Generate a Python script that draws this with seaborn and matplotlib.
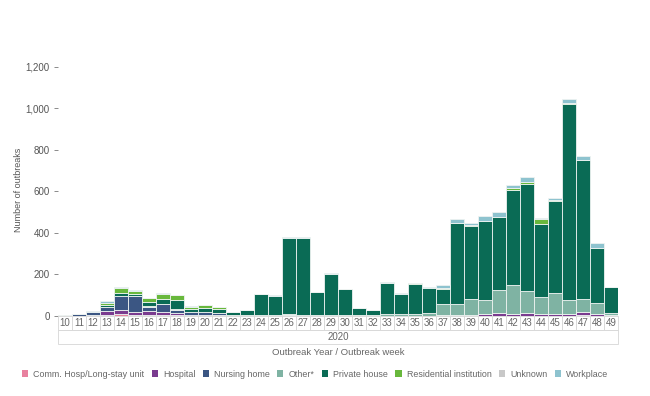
import pandas as pd
import matplotlib.pyplot as plt
import matplotlib.transforms as mtransforms
from matplotlib.patches import Rectangle, Patch
from matplotlib.ticker import FuncFormatter
import seaborn as sns

# ---------------------------
# Data
# ---------------------------

weeks = list(range(10, 50))

settings = [
    "Comm. Hosp/Long-stay unit", "Hospital", "Nursing home", "Other*",
    "Private house", "Residential institution", "Unknown", "Workplace",
]

comm_hosp = [0, 0, 0, 3, 10, 5, 3, 5, 3, 0, 0, 0, 0, 0, 0, 0, 0, 0, 0, 0,
             0, 0, 0, 0, 0, 0, 0, 0, 0, 0, 0, 0, 0, 0, 0, 0, 0, 5, 0, 0]
hospital = [0, 2, 3, 20, 20, 15, 20, 15, 10, 5, 5, 3, 2, 2, 2, 0, 3, 0, 0, 0,
            0, 0, 0, 0, 0, 0, 0, 5, 5, 5, 10, 15, 10, 15, 10, 10, 10, 15, 10, 3]
nursing_home = [2, 8, 15, 22, 65, 75, 20, 40, 15, 15, 12, 10, 3, 3, 0, 0, 0, 0, 0, 0,
                0, 0, 0, 0, 0, 0, 0, 0, 0, 0, 0, 0, 0, 0, 0, 0, 0, 0, 0, 0]
other = [1, 0, 3, 0, 0, 0, 3, 0, 5, 0, 3, 0, 0, 2, 3, 3, 5, 5, 5, 5,
         5, 5, 3, 10, 10, 10, 15, 55, 55, 75, 65, 110, 140, 105, 80, 100, 65, 60, 55, 10]
private_house = [0, 0, 0, 10, 15, 10, 22, 20, 45, 15, 20, 22, 12, 23, 100, 95, 370, 373, 110, 195,
                 125, 35, 27, 150, 95, 145, 120, 70, 390, 355, 385, 350, 455, 515, 355, 445, 945, 670, 265, 127]
residential = [0, 0, 0, 10, 25, 15, 17, 25, 22, 10, 15, 7, 3, 0, 0, 0, 0, 0, 0, 0,
               0, 0, 0, 0, 0, 2, 0, 5, 0, 5, 0, 0, 10, 10, 20, 5, 6, 0, 0, 0]
unknown = [0] * 40
workplace = [0, 2, 4, 5, 5, 5, 0, 5, 0, 5, 0, 3, 0, 0, 0, 2, 2, 2, 0, 5,
             0, 0, 0, 5, 5, 3, 5, 15, 15, 10, 20, 25, 15, 25, 5, 10, 20, 20, 20, 0]

series = [comm_hosp, hospital, nursing_home, other,
          private_house, residential, unknown, workplace]

colors = ["#e8819f", "#7a3b8f", "#3b5683", "#7fb3a3",
          "#0a6b55", "#68b83c", "#c8c8c8", "#8ec3cf"]

rows = []
for name, values in zip(settings, series):
    for w, v in zip(weeks, values):
        rows.append({"Week": w, "Setting": name, "Count": v})
df = pd.DataFrame(rows)

# ---------------------------
# Plot
# ---------------------------

sns.set_theme(style="white")
plt.rcParams["font.family"] = ["Liberation Sans", "DejaVu Sans"]

fig = plt.figure(figsize=(6.5, 3.96), dpi=100)
ax = fig.add_axes([0.089, 0.202, 0.862, 0.629])

sns.histplot(
    data=df,
    x="Week",
    weights="Count",
    hue="Setting",
    hue_order=settings[::-1],
    palette=dict(zip(settings, colors)),
    multiple="stack",
    discrete=True,
    shrink=1.0,
    alpha=1,
    edgecolor="#eef3f1",
    linewidth=0.6,
    legend=False,
    ax=ax,
)

ax.set_xlim(9.5, 49.5)
ax.set_ylim(0, 1200)
ax.set_yticks(range(0, 1201, 200))
ax.yaxis.set_major_formatter(FuncFormatter(lambda v, p: f"{int(v):,}"))
ax.tick_params(axis="y", labelsize=7, labelcolor="#555555", length=3,
               width=0.6, color="#777777", left=True, pad=3)
ax.set_xticks([])
ax.set_xlabel("")
ax.set_ylabel("")
for s in ax.spines.values():
    s.set_visible(False)

fig.text(0.028, 0.52, "Number of outbreaks", rotation=90, ha="center",
         va="center", fontsize=6.5, color="#555555")

# week cells and year row under the axis
trans = mtransforms.blended_transform_factory(ax.transData, ax.transAxes)
cell_h = 0.056
for w in weeks:
    ax.add_patch(Rectangle((w - 0.5, -cell_h), 1, cell_h, transform=trans,
                           facecolor="white", edgecolor="#d6d6d6",
                           linewidth=0.6, clip_on=False))
    ax.text(w, -cell_h / 2, str(w), transform=trans, ha="center", va="center",
            fontsize=7, color="#666666")
ax.add_patch(Rectangle((9.5, -2 * cell_h), 40, cell_h, transform=trans,
                       facecolor="white", edgecolor="#d6d6d6",
                       linewidth=0.6, clip_on=False))
ax.text(29.5, -1.5 * cell_h, "2020", transform=trans, ha="center", va="center",
        fontsize=7, color="#666666")
ax.text(29.5, -2 * cell_h - 0.035, "Outbreak Year / Outbreak week", transform=trans,
        ha="center", va="center", fontsize=6.8, color="#666666")

# legend
handles = [Patch(facecolor=c, edgecolor="none") for c in colors]
fig.legend(handles, settings, loc="center", bbox_to_anchor=(0.485, 0.055),
           ncol=8, frameon=False, fontsize=6.4, labelcolor="#666666",
           handlelength=0.7, handleheight=0.7, handletextpad=0.6,
           columnspacing=0.8)

plt.savefig("out.png", dpi=100)
